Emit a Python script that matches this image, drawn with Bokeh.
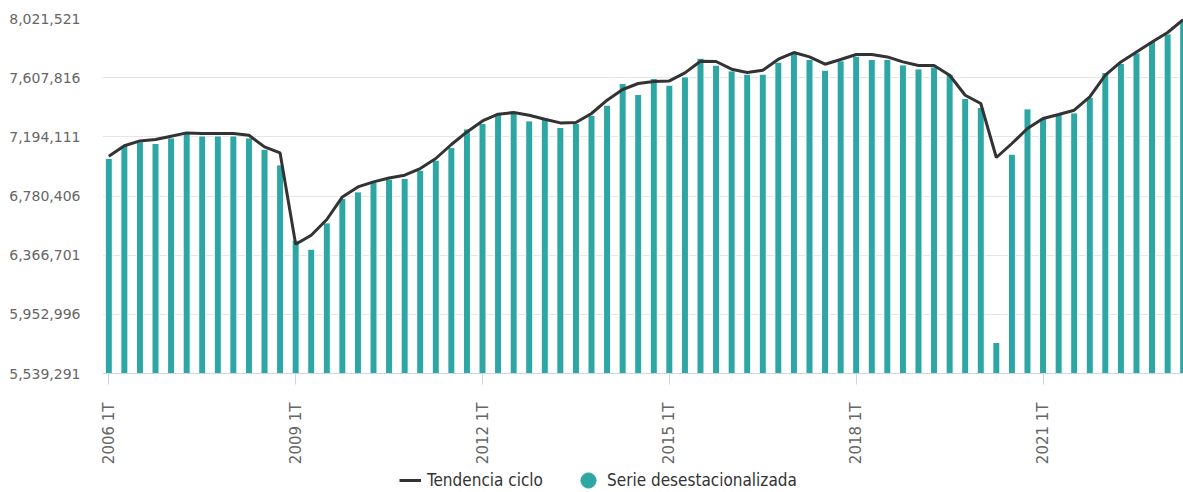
import math
from bokeh.plotting import figure
from bokeh.layouts import column
from bokeh.models import (ColumnDataSource, FixedTicker, NumeralTickFormatter,
                          Range1d, Legend, LegendItem)
from bokeh.embed import file_html
from bokeh.resources import INLINE

# ---- data ----
periods = [f"{y} {q}T" for y in range(2006, 2024) for q in range(1, 5)][:70]

serie_desestacionalizada = [
    7042571, 7130670, 7158638, 7147451, 7186606, 7217371, 7200590, 7200590,
    7200590, 7186606, 7107597, 6997822, 6471325, 6408397, 6592286, 6762891,
    6809038, 6874763, 6897837, 6902731, 6960765, 7030685, 7119483, 7249534,
    7287291, 7352317, 7359309, 7305470, 7322251, 7259323, 7287291, 7345325,
    7415245, 7566971, 7490059, 7601931, 7555085, 7613118, 7743869, 7694925,
    7655070, 7631997, 7631997, 7715901, 7776731, 7734779, 7659965, 7724990,
    7757853, 7734779, 7734779, 7697022, 7669054, 7683038, 7631997, 7462091,
    7399163, 5756043, 7072637, 7389374, 7324349, 7352317, 7361406, 7471181,
    7643883, 7706811, 7780926, 7860635, 7913774, 8002573,
]

tendencia_ciclo = [
    7058653, 7132069, 7165630, 7175419, 7198493, 7221566, 7217371, 7217371,
    7217371, 7205485, 7123678, 7081726, 6443357, 6506285, 6616059, 6774078,
    6843998, 6878958, 6906227, 6925805, 6972651, 7042571, 7140459, 7228558,
    7305470, 7352317, 7364203, 7345325, 7317357, 7291486, 7294283, 7357211,
    7450205, 7525019, 7566971, 7580955, 7585150, 7641086, 7722893, 7720795,
    7666957, 7643883, 7659965, 7736877, 7783723, 7752958, 7701917, 7734779,
    7769739, 7769739, 7752958, 7717998, 7692827, 7692827, 7625005, 7485165,
    7427131, 7049563, 7147451, 7252331, 7322251, 7350219, 7380285, 7473278,
    7625005, 7717998, 7787918, 7857838, 7923563, 8013061,
]

y_ticks = [5539291, 5952996, 6366701, 6780406, 7194111, 7607816, 8021521]
x_tick_labels = ["2006 1T", "2009 1T", "2012 1T", "2015 1T", "2018 1T", "2021 1T"]
legend_labels = ["Tendencia ciclo", "Serie desestacionalizada"]

TEAL = "#2ea6a3"
LINE = "#333333"

x_idx = list(range(len(periods)))
src = ColumnDataSource(dict(x=x_idx, period=periods,
                            serie=serie_desestacionalizada,
                            tend=tendencia_ciclo))

p = figure(width=1183, height=468, output_backend="svg", toolbar_location=None,
           x_range=Range1d(-0.405, 69.02),
           y_range=Range1d(y_ticks[0], y_ticks[-1]),
           min_border_left=102, min_border_right=0, min_border_top=18,
           min_border_bottom=95)
p.outline_line_color = None

p.vbar(x="x", top="serie", bottom=y_ticks[0], width=0.45, source=src,
       fill_color=TEAL, line_color="white", line_width=1)
p.line(x="x", y="tend", source=src, line_color=LINE, line_width=3)

# y axis
p.yaxis.ticker = FixedTicker(ticks=y_ticks)
p.yaxis.formatter = NumeralTickFormatter(format="0,0")
p.yaxis.axis_line_color = None
p.yaxis.major_tick_line_color = None
p.yaxis.minor_tick_line_color = None
p.yaxis.major_tick_out = 0
p.yaxis.major_tick_in = 0
p.yaxis.major_label_standoff = 22
p.yaxis.major_label_text_font = "DejaVu Sans"
p.yaxis.major_label_text_font_size = "14px"
p.yaxis.major_label_text_color = "#666666"
p.ygrid.grid_line_color = "#e6e6e6"
p.ygrid.grid_line_width = 1

# x axis
tick_pos = [periods.index(t) for t in x_tick_labels]
p.xaxis.ticker = FixedTicker(ticks=tick_pos)
p.xaxis.major_label_overrides = {i: periods[i] for i in tick_pos}
p.xaxis.major_label_orientation = math.pi / 2
p.xaxis.axis_line_color = "#ccd6eb"
p.xaxis.major_tick_line_color = "#ccd6eb"
p.xaxis.minor_tick_line_color = None
p.xaxis.major_tick_out = 11
p.xaxis.major_tick_in = 0
p.xaxis.major_label_standoff = 18
p.xaxis.major_label_text_font = "DejaVu Sans"
p.xaxis.major_label_text_font_size = "15px"
p.xaxis.major_label_text_color = "#666666"
p.xgrid.grid_line_color = None

# ---- legend strip (separate small figure under the chart) ----
q = figure(width=1183, height=24, output_backend="svg", toolbar_location=None,
           x_range=Range1d(0, 1), y_range=Range1d(0, 1),
           x_axis_type=None, y_axis_type=None,
           min_border_left=102, min_border_right=0, min_border_top=0,
           min_border_bottom=0)
q.outline_line_color = None
q.grid.visible = False
# legend-icon renderers: same data, but it lies far outside this strip's ranges
leg_line = q.line(x="x", y="tend", source=src, line_color=LINE, line_width=3)
leg_dot = q.scatter(x="x", y="serie", source=src, marker="circle",
                    fill_color=TEAL, line_color=TEAL)

common = dict(orientation="horizontal", padding=0, margin=0, spacing=0,
              border_line_alpha=0, background_fill_alpha=0,
              label_text_font="DejaVu Sans Condensed",
              label_text_font_size="17px", label_text_color="#333333")
leg1 = Legend(items=[LegendItem(label=legend_labels[0], renderers=[leg_line])],
              location=(297, 2), glyph_width=22, glyph_height=20,
              label_standoff=6, **common)
leg2 = Legend(items=[LegendItem(label=legend_labels[1], renderers=[leg_dot])],
              location=(467, -7), glyph_width=38, glyph_height=38,
              label_standoff=0, **common)
q.add_layout(leg1)
q.add_layout(leg2)

layout = column(p, q, spacing=0)
open("out.html", "w").write(file_html(layout, INLINE))
